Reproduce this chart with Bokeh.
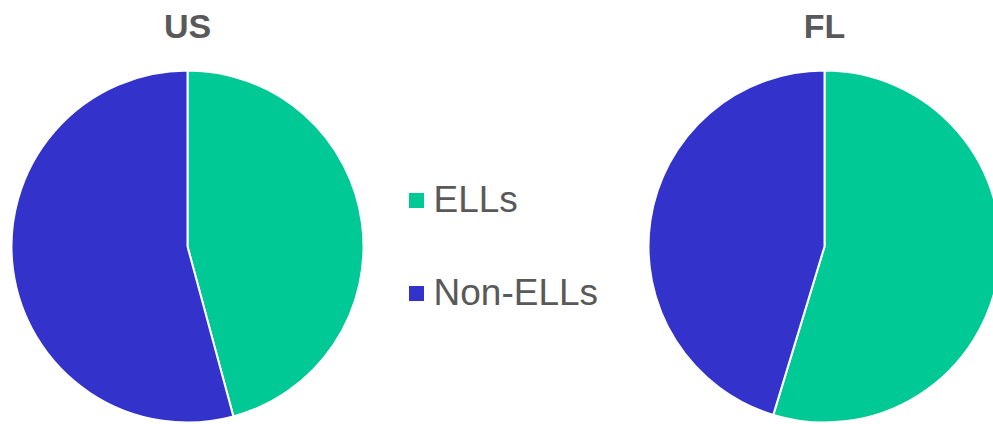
import math
from bokeh.plotting import figure
from bokeh.models import Range1d, ColumnDataSource
from bokeh.core.properties import value
from bokeh.embed import file_html
from bokeh.resources import INLINE

# ---- data ----
categories = ["ELLs", "Non-ELLs"]
regions = ["US", "FL"]
us_values = [45.8, 54.2]
fl_values = [54.7, 45.3]
colors = ["#00C996", "#3333CC"]

W, H = 993, 424
p = figure(width=W, height=H, output_backend="svg", toolbar_location=None,
           x_range=Range1d(0, W), y_range=Range1d(0, H),
           min_border=0, min_border_left=0, min_border_right=0,
           min_border_top=0, min_border_bottom=0)
p.axis.visible = False
p.grid.visible = False
p.outline_line_color = None
p.background_fill_color = "white"
p.border_fill_color = "white"

centers_x = [187, 824]
center_y = H - 246
radius = 176

for vals, cx in zip([us_values, fl_values], centers_x):
    total = sum(vals)
    starts, ends = [], []
    cum = 0.0
    for v in vals:
        a0 = math.pi / 2 - 2 * math.pi * (cum + v) / total
        a1 = math.pi / 2 - 2 * math.pi * cum / total
        starts.append(a0)
        ends.append(a1)
        cum += v
    src = ColumnDataSource(dict(x=[cx] * len(vals), y=[center_y] * len(vals),
                                start=starts, end=ends, color=colors, cat=categories))
    p.wedge(x="x", y="y", radius=radius, start_angle="start", end_angle="end",
            fill_color="color", line_color="white", line_width=2, source=src)

# titles
p.text(x=centers_x, y=[H - 25] * 2, text=regions,
       text_font=value("Liberation Sans"), text_font_style="bold",
       text_font_size="34px", text_color="#595959",
       text_align="center", text_baseline="middle")

# legend
leg_y = [H - 200, H - 293]
p.rect(x=[416] * 2, y=leg_y, width=15, height=15, fill_color=colors, line_color=None)
p.text(x=[433] * 2, y=[y + 1 for y in leg_y], text=categories,
       text_font=value("Liberation Sans"), text_font_size="37px",
       text_color="#595959", text_align="left", text_baseline="middle")

open("out.html", "w").write(file_html(p, INLINE))
